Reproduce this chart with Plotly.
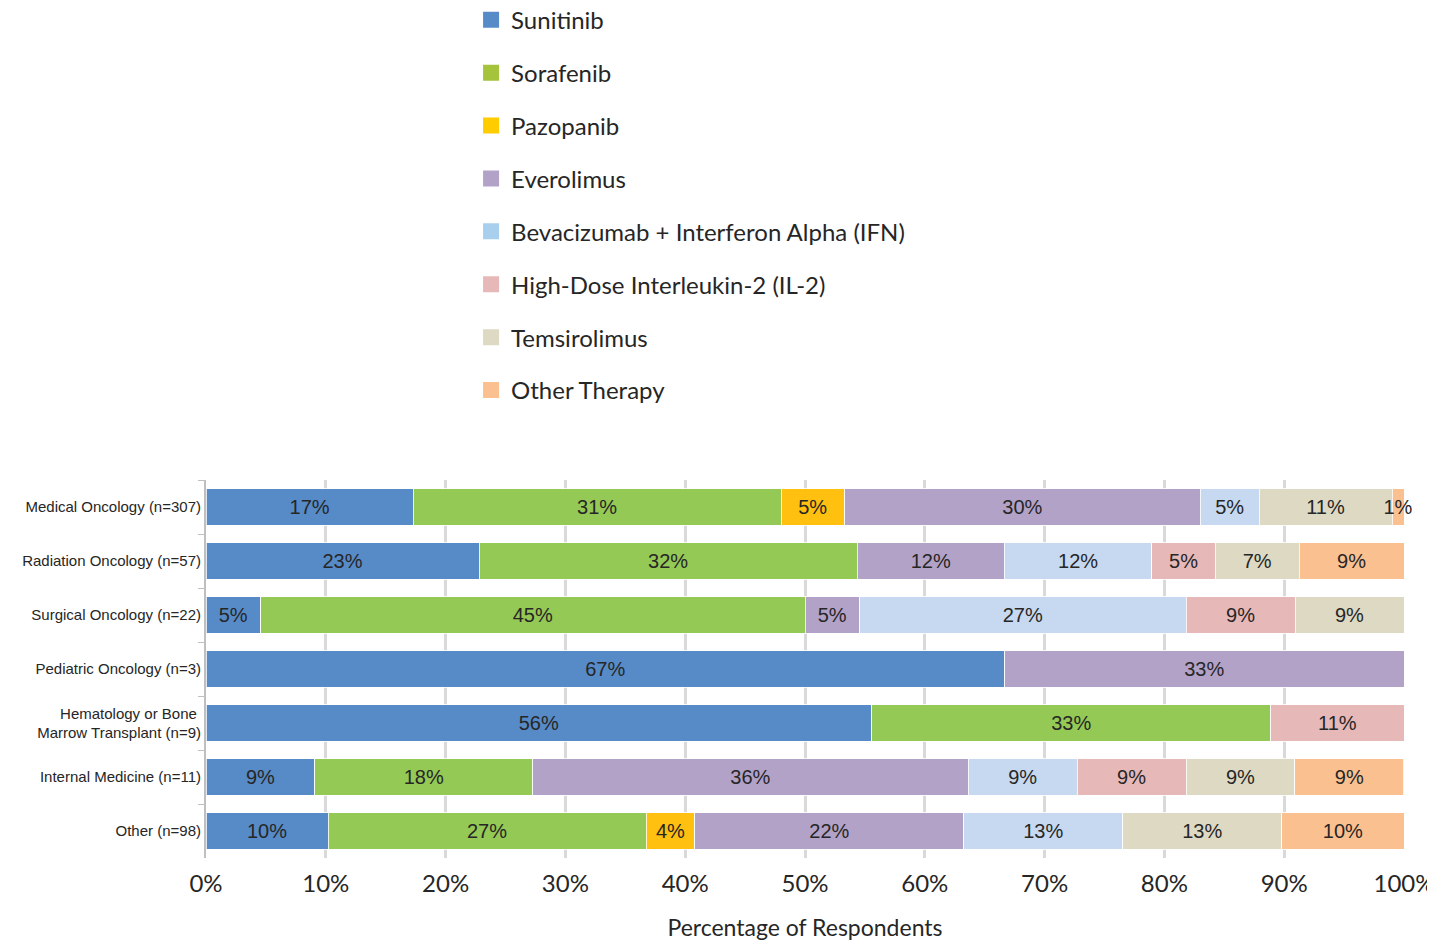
import plotly.graph_objects as go

categories = [
    "Medical Oncology (n=307)",
    "Radiation Oncology (n=57)",
    "Surgical Oncology (n=22)",
    "Pediatric Oncology (n=3)",
    "Hematology or Bone <br>Marrow Transplant (n=9)",
    "Internal Medicine (n=11)",
    "Other (n=98)",
]

series_names = [
    "Sunitinib",
    "Sorafenib",
    "Pazopanib",
    "Everolimus",
    "Bevacizumab + Interferon Alpha (IFN)",
    "High-Dose Interleukin-2 (IL-2)",
    "Temsirolimus",
    "Other Therapy",
]

sunitinib = [17.3, 22.8, 4.55, 66.67, 55.56, 9.09, 10.2]
sorafenib = [30.7, 31.55, 45.45, None, 33.33, 18.18, 26.53]
pazopanib = [5.3, None, None, None, None, None, 4.08]
everolimus = [29.7, 12.3, 4.55, 33.33, None, 36.36, 22.45]
bevacizumab_ifn = [4.9, 12.3, 27.27, None, None, 9.09, 13.27]
il2 = [None, 5.3, 9.09, None, 11.11, 9.09, None]
temsirolimus = [11.1, 7.0, 9.09, None, None, 9.09, 13.27]
other_therapy = [1.0, 8.75, None, None, None, 9.09, 10.2]

bar_colors = ["#578BC8", "#95C955", "#FFC010", "#B3A2C7", "#C6D9F0", "#E6B8B7", "#DDD9C3", "#FAC090"]
legend_colors = ["#578BC8", "#A5C33B", "#FFCC00", "#B3A2C7", "#A8CFEE", "#E6B8B7", "#DDD9C3", "#FAC090"]

x_ticks = [0, 10, 20, 30, 40, 50, 60, 70, 80, 90, 100]
x_tick_labels = ["0%", "10%", "20%", "30%", "40%", "50%", "60%", "70%", "80%", "90%", "100%"]

all_series = [sunitinib, sorafenib, pazopanib, everolimus, bevacizumab_ifn, il2, temsirolimus, other_therapy]

fig = go.Figure()
for name, vals, col in zip(series_names, all_series, bar_colors):
    fig.add_trace(go.Bar(
        y=categories, x=vals, name=name, orientation="h",
        marker=dict(color=col, line=dict(color="white", width=0.8)),
        texttemplate="%{x:.0f}%", textposition="inside", insidetextanchor="middle",
        textangle=0, constraintext="none", cliponaxis=False,
        textfont=dict(family="Arial, Liberation Sans", size=20, color="#262626"),
        showlegend=False, hoverinfo="x+name",
    ))

for i, (name, col) in enumerate(zip(series_names, legend_colors)):
    fig.add_trace(go.Scatter(
        x=[None], y=[None], mode="markers", name=name,
        marker=dict(symbol="square", size=16, color=col),
        legendgroup="g%d" % i, showlegend=True,
    ))

fig.update_layout(
    width=1435, height=944,
    margin=dict(l=198, r=39, t=472, b=94, autoexpand=False),
    barmode="stack", bargap=0.33,
    plot_bgcolor="white", paper_bgcolor="white",
    legend=dict(
        xref="container", yref="paper", x=0.3227, y=2.276,
        xanchor="left", yanchor="top",
        font=dict(family="Lato", size=24, color="#262626"),
        tracegroupgap=18.7, itemsizing="trace", traceorder="grouped",
    ),
    showlegend=True,
)

fig.update_xaxes(
    range=[0, 100], tickvals=x_ticks, ticktext=x_tick_labels, tickangle=0,
    showgrid=True, gridcolor="#D9D9D9", gridwidth=3,
    zeroline=False, showline=False, ticks="", ticklabelstandoff=9,
    tickfont=dict(family="Liberation Sans Narrow, Lato", size=24, color="#262626"),
    title=dict(text="Percentage of Respondents", standoff=23,
               font=dict(family="Lato", size=23, color="#262626")),
)
fig.update_yaxes(
    autorange="reversed", tickson="boundaries", ticks="outside", ticklen=6,
    tickcolor="#BFBFBF", showline=True, linecolor="#BFBFBF", linewidth=2,
    showgrid=False, zeroline=False,
    tickfont=dict(family="Arial, Liberation Sans", size=15, color="#262626"),
)

fig.write_html("out.html")
